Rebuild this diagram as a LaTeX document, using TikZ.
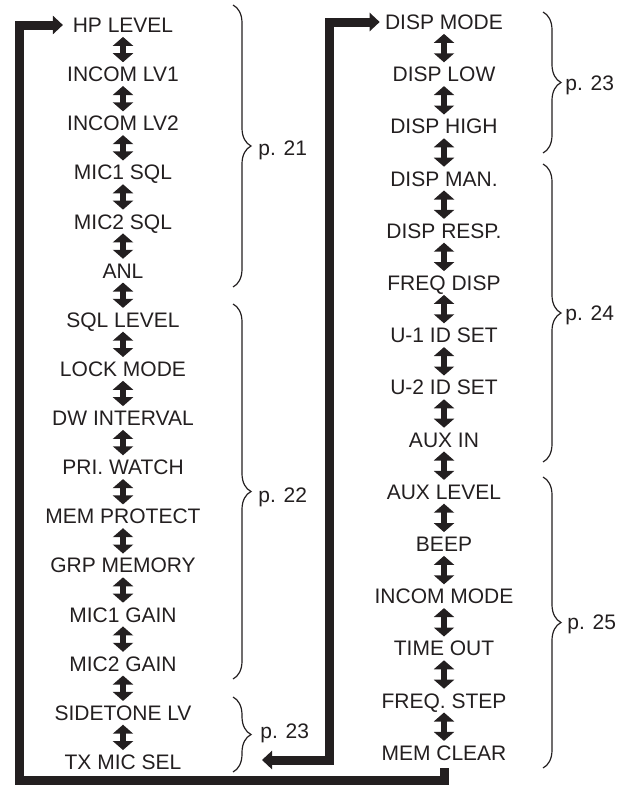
\documentclass[tikz,border=0pt]{standalone}
\usepackage{fontspec}
\setmainfont{Liberation Sans}
\usetikzlibrary{arrows.meta,decorations.pathreplacing}
\definecolor{ink}{HTML}{231F20}
\tikzset{
  item/.style={inner sep=0pt, text height=7.5pt, text depth=0pt,
    font=\fontsize{10.5}{12}\selectfont, text=ink},
  updown/.style={draw=ink, line width=3pt, shorten <=2pt, shorten >=2pt,
    {Triangle[width=10pt,length=4.5pt]}-{Triangle[width=10pt,length=4.5pt]}},
  loopline/.style={draw=ink, line width=4.5pt},
  bigtip/.tip={Triangle[width=9pt,length=5pt]},
  pagebrace/.style={draw=ink, line width=0.6pt, decorate,
    decoration={brace, amplitude=9pt}},
  pagelabel/.style={item, anchor=west}
}
\begin{document}
\begin{tikzpicture}[x=0.5pt, y=-0.5pt]
    \useasboundingbox (0,0) rectangle (627,787);
    % left column
    \foreach \name/\txt [count=\i from 0, remember=\name as \prev] in
      {hp/HP LEVEL, lvone/INCOM LV1, lvtwo/INCOM LV2, miconesql/MIC1 SQL,
       mictwosql/MIC2 SQL, anl/ANL, sql/SQL LEVEL, lock/LOCK MODE,
       dw/DW INTERVAL, pri/PRI. WATCH, memprot/MEM PROTECT, grp/GRP MEMORY,
       miconegain/MIC1 GAIN, mictwogain/MIC2 GAIN, sidetone/SIDETONE LV,
       txmic/TX MIC SEL} {
      \node [item] (\name) at (123,{25+49.13*\i}) {\txt};
      \ifnum\i>0 \draw [updown] (\prev.south) -- (\name.north); \fi
    }
    % right column
    \foreach \name/\txt [count=\i from 0, remember=\name as \prev] in
      {dmode/DISP MODE, dlow/DISP LOW, dhigh/DISP HIGH, dman/DISP MAN.,
       dresp/DISP RESP., fdisp/FREQ DISP, uone/U-1 ID SET, utwo/U-2 ID SET,
       auxin/AUX IN, auxlv/AUX LEVEL, beep/BEEP, incmode/INCOM MODE,
       tout/TIME OUT, fstep/FREQ. STEP, memclr/MEM CLEAR} {
      \node [item] (\name) at (444,{22+52.2*\i}) {\txt};
      \ifnum\i>0 \draw [updown] (\prev.south) -- (\name.north); \fi
    }
    % page braces
    \draw [pagebrace] (233,5) -- (233,287);
    \draw [pagebrace] (233,304) -- (233,679);
    \draw [pagebrace] (233,697) -- (233,772);
    \draw [pagebrace] (543,12) -- (543,153);
    \draw [pagebrace] (543,164) -- (543,462);
    \draw [pagebrace] (543,477) -- (543,768);
    \node [pagelabel] (ptwentyone) at (258,148) {p. 21};
    \node [pagelabel] (ptwentytwo) at (258,495) {p. 22};
    \node [pagelabel] (ptwentythreel) at (260,731) {p. 23};
    \node [pagelabel] (ptwentythreer) at (565,83) {p. 23};
    \node [pagelabel] (ptwentyfour) at (565,313) {p. 24};
    \node [pagelabel] (ptwentyfive) at (567,622) {p. 25};
    % loops
    \coordinate (lowleft) at (19.5,780);
    \coordinate (txtip) at (262,760);
    \coordinate (rightbend) at (329,760);
    \draw [loopline, -bigtip]
      ([yshift=-3.75pt]memclr.south) |- (lowleft) |- ([xshift=-4.75pt]hp.west);
    \draw [loopline, bigtip-bigtip]
      (txtip) -- (rightbend) |- ([xshift=-2.5pt]dmode.west);
  \end{tikzpicture}
\end{document}
